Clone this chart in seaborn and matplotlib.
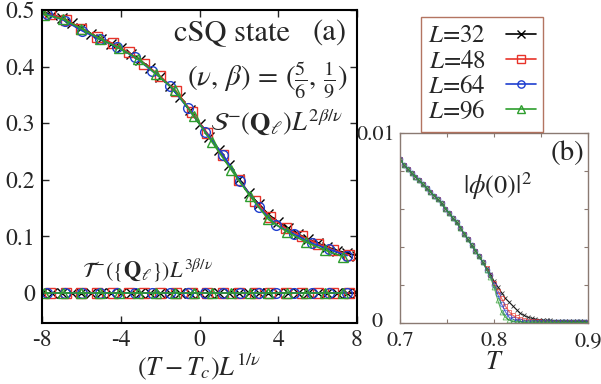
import numpy as np
import pandas as pd
import matplotlib
matplotlib.use("Agg")
import matplotlib.pyplot as plt
import matplotlib.transforms as mtransforms
import seaborn as sns

sns.set_theme(style="ticks")
plt.rcParams['font.family'] = ['STIXGeneral', 'Liberation Serif', 'DejaVu Serif']
plt.rcParams['mathtext.fontset'] = 'stix'

# ---------------- data: panel (a) ----------------
sizes = ["32", "48", "64", "96"]
colors = ["black", "#e8332a", "#1f3fd0", "#2e9e2e"]
markers = ["x", "s", "o", "^"]

x32 = [-8.0, -7.5, -7.0, -6.5, -6.0, -5.5, -5.0, -4.5, -4.0, -3.5, -3.0, -2.5, -2.0,
       -1.5, -1.0, -0.5, 0.0, 0.5, 1.0, 1.5, 2.0, 2.5, 3.0, 3.5, 4.0, 4.5, 5.0, 5.5,
       6.0, 6.5, 7.0, 7.5, 8.0]
s32 = [0.497, 0.492, 0.486, 0.477, 0.468, 0.458, 0.449, 0.440, 0.432, 0.422, 0.411,
       0.397, 0.382, 0.365, 0.346, 0.323, 0.299, 0.276, 0.252, 0.226, 0.201, 0.177,
       0.157, 0.139, 0.125, 0.114, 0.104, 0.096, 0.088, 0.081, 0.075, 0.070, 0.066]

x48 = [-7.6, -6.8, -6.0, -5.2, -4.4, -3.6, -2.8, -2.0, -1.2, -0.4, 0.4, 1.2, 2.0, 2.8,
       3.6, 4.4, 5.2, 6.0, 6.8, 7.6]
s48 = [0.493, 0.483, 0.467, 0.452, 0.441, 0.425, 0.405, 0.383, 0.357, 0.320, 0.282,
       0.243, 0.199, 0.163, 0.134, 0.114, 0.100, 0.087, 0.076, 0.067]

x64 = [-7.75, -6.85, -5.95, -5.05, -4.2, -3.3, -2.4, -1.5, -0.6, 0.3, 1.2, 2.05, 3.0,
       3.9, 4.8, 5.7, 6.6, 7.5]
s64 = [0.493, 0.481, 0.463, 0.448, 0.435, 0.417, 0.392, 0.366, 0.327, 0.285, 0.244,
       0.198, 0.152, 0.120, 0.104, 0.088, 0.077, 0.066]

x96 = [-7.9, -6.95, -6.0, -5.05, -4.1, -3.15, -2.2, -1.25, -0.3, 0.65, 1.6, 2.55, 3.5,
       4.45, 5.4, 6.35, 7.3]
s96 = [0.492, 0.484, 0.467, 0.449, 0.433, 0.414, 0.387, 0.358, 0.313, 0.266, 0.218,
       0.172, 0.130, 0.108, 0.090, 0.076, 0.064]

# T^- order parameter: zero within resolution for all sizes
t32 = [0.0] * len(x32)
t48 = [0.0] * len(x48)
t64 = [0.0] * len(x64)
t96 = [0.0] * len(x96)

xa = [x32, x48, x64, x96]
sa = [s32, s48, s64, s96]
ta = [t32, t48, t64, t96]

# ---------------- data: panel (b) ----------------
T_low = [0.700, 0.704, 0.708, 0.712, 0.716, 0.720, 0.724, 0.728, 0.732, 0.736, 0.740,
         0.744, 0.748, 0.752, 0.756, 0.760, 0.764, 0.768, 0.772, 0.776, 0.780, 0.784,
         0.788]
phi_low = [0.0086, 0.0083, 0.0081, 0.0079, 0.0077, 0.0075, 0.0073, 0.0071, 0.0069,
           0.0067, 0.0065, 0.0063, 0.0060, 0.0058, 0.0055, 0.0053, 0.0050, 0.0047,
           0.0044, 0.0041, 0.0038, 0.0035, 0.0032]
T_high = [0.792, 0.796, 0.800, 0.804, 0.808, 0.812, 0.816, 0.820, 0.824, 0.828, 0.832,
          0.836, 0.840, 0.844, 0.848, 0.852, 0.856, 0.860, 0.864, 0.868, 0.872, 0.876,
          0.880, 0.884, 0.888, 0.892, 0.896, 0.900]
phi32_high = [0.0029, 0.0026, 0.0022, 0.0019, 0.0016, 0.0013, 0.0011, 0.0009, 0.0007,
              0.0005, 0.0004, 0.0003, 0.00025, 0.0002, 0.00017, 0.00015, 0.00014,
              0.00013, 0.00012, 0.00011, 0.0001, 0.0001, 0.00009, 0.00009, 0.00008,
              0.00008, 0.00008, 0.00007]
phi48_high = [0.0029, 0.0025, 0.0021, 0.0017, 0.0013, 0.0009, 0.0006, 0.0004, 0.0003,
              0.0002, 0.00015, 0.00012, 0.0001, 0.00009, 0.00008, 0.00007, 0.00007,
              0.00006, 0.00006, 0.00006, 0.00005, 0.00005, 0.00005, 0.00005, 0.00005,
              0.00005, 0.00005, 0.00005]
phi64_high = [0.0028, 0.0025, 0.0020, 0.0015, 0.0010, 0.0006, 0.0003, 0.0002, 0.00012,
              0.00008, 0.00006, 0.00005, 0.00005, 0.00004, 0.00004, 0.00004, 0.00004,
              0.00004, 0.00004, 0.00004, 0.00004, 0.00004, 0.00004, 0.00004, 0.00004,
              0.00004, 0.00004, 0.00004]
phi96_high = [0.0028, 0.0024, 0.0019, 0.0012, 0.0006, 0.0003, 0.00015, 0.00008, 0.00005,
              0.00004, 0.00003, 0.00003, 0.00003, 0.00003, 0.00003, 0.00003, 0.00003,
              0.00003, 0.00003, 0.00003, 0.00003, 0.00003, 0.00003, 0.00003, 0.00003,
              0.00003, 0.00003, 0.00003]
phi_high = [phi32_high, phi48_high, phi64_high, phi96_high]

# ---------------- figure ----------------
fig = plt.figure(figsize=(6.01, 3.84), dpi=100)
axa = fig.add_axes([0.070, 0.159, 0.524, 0.815])
axb = fig.add_axes([0.666, 0.159, 0.312, 0.495])

handles = []
for i in range(4):
    kw = dict(color=colors[i], marker=markers[i], lw=1.2, ms=7,
              mew=1.0, mfc='none', mec=colors[i])
    df_s = pd.DataFrame({"x": xa[i], "y": sa[i]})
    df_t = pd.DataFrame({"x": xa[i], "y": ta[i]})
    sns.lineplot(data=df_s, x="x", y="y", ax=axa, sort=True, **kw)
    sns.lineplot(data=df_t, x="x", y="y", ax=axa, sort=True, **kw)
    handles.append(axa.lines[-1])

for i in range(4):
    df_b = pd.DataFrame({"T": T_low + T_high, "p": phi_low + phi_high[i]})
    sns.lineplot(data=df_b, x="T", y="p", ax=axb, color=colors[i], marker=markers[i],
                 lw=0.8, ms=3.5, mew=0.6, mfc='none', mec=colors[i], alpha=0.75)

# panel (a) styling
axa.set_xlim(-8, 8)
axa.set_ylim(-0.053, 0.5)
axa.set_xticks([-8, -4, 0, 4, 8])
axa.set_xticklabels(["-8", "-4", "0", "4", "8"])
axa.set_yticks([0, 0.1, 0.2, 0.3, 0.4, 0.5])
axa.set_yticklabels(["0", "0.1", "0.2", "0.3", "0.4", "0.5"])
axa.tick_params(direction='in', top=True, right=True, labelsize=17, length=5,
                width=1.0, pad=5)
for sp in axa.spines.values():
    sp.set_linewidth(1.5)
    sp.set_color('black')
axa.set_xlabel(r"$(T-T_c)L^{1/\nu}$", fontsize=19, labelpad=0)
axa.set_ylabel("")

axa.text(0.787, 0.927, "cSQ state", transform=axa.transAxes, fontsize=22,
         ha='right', va='center')
axa.text(0.968, 0.927, "(a)", transform=axa.transAxes, fontsize=22,
         ha='right', va='center')
axa.text(0.971, 0.776, r"$(\nu,\,\beta)\,=\,(\frac{5}{6},\,\frac{1}{9})$",
         transform=axa.transAxes, fontsize=21, ha='right', va='center')
axa.text(0.955, 0.642, r"$\mathcal{S}^{-}(\mathbf{Q}_{\ell})L^{2\beta/\nu}$",
         transform=axa.transAxes, fontsize=19, ha='right', va='center')
axa.text(0.127, 0.169, r"$\mathcal{T}^{-}(\{\mathbf{Q}_{\ell}\})L^{3\beta/\nu}$",
         transform=axa.transAxes, fontsize=16, ha='left', va='center')

# panel (b) styling
frame_b = '#8a7a72'
axb.set_xlim(0.7, 0.9)
axb.set_ylim(0, 0.01)
axb.set_xticks([0.7, 0.8, 0.9])
axb.set_xticklabels(["0.7", "0.8", "0.9"])
axb.set_xticks([0.75, 0.85], minor=True)
axb.set_yticks([0, 0.01])
axb.set_yticklabels(["0", "0.01"])
axb.set_yticks([0.002, 0.004, 0.006, 0.008], minor=True)
axb.tick_params(which='both', direction='in', top=True, right=True, labelsize=16,
                length=3, width=0.8, color=frame_b)
axb.tick_params(axis='x', pad=6)
axb.tick_params(axis='y', pad=4)
for sp in axb.spines.values():
    sp.set_linewidth(1.0)
    sp.set_color(frame_b)
axb.set_xlabel(r"$T$", fontsize=19, labelpad=0)
axb.set_ylabel("")
axb.text(0.98, 0.89, "(b)", transform=axb.transAxes, fontsize=21,
         ha='right', va='center')
axb.text(0.52, 0.72, r"$|\phi(0)|^2$", transform=axb.transAxes, fontsize=19,
         ha='center', va='center')

# shift the "0" label of panel (b) left and up, as in the original
zero_lab = axb.get_yticklabels()[0]
zero_lab.set_transform(zero_lab.get_transform() +
                       mtransforms.ScaledTranslation(-12 / 100, 3 / 100,
                                                     fig.dpi_scale_trans))

labels = [r"$L$=" + s for s in sizes]
leg = fig.legend(handles, labels, loc='upper left', bbox_to_anchor=(0.700, 0.956),
                 fontsize=18, frameon=True, fancybox=False, handlelength=1.2,
                 markerfirst=False, borderpad=0.3, labelspacing=0.05,
                 handletextpad=0.8, borderaxespad=0, markerscale=0.75)
leg.get_frame().set_edgecolor('#a0523a')
leg.get_frame().set_linewidth(1.0)

fig.savefig("out.png", dpi=100)
